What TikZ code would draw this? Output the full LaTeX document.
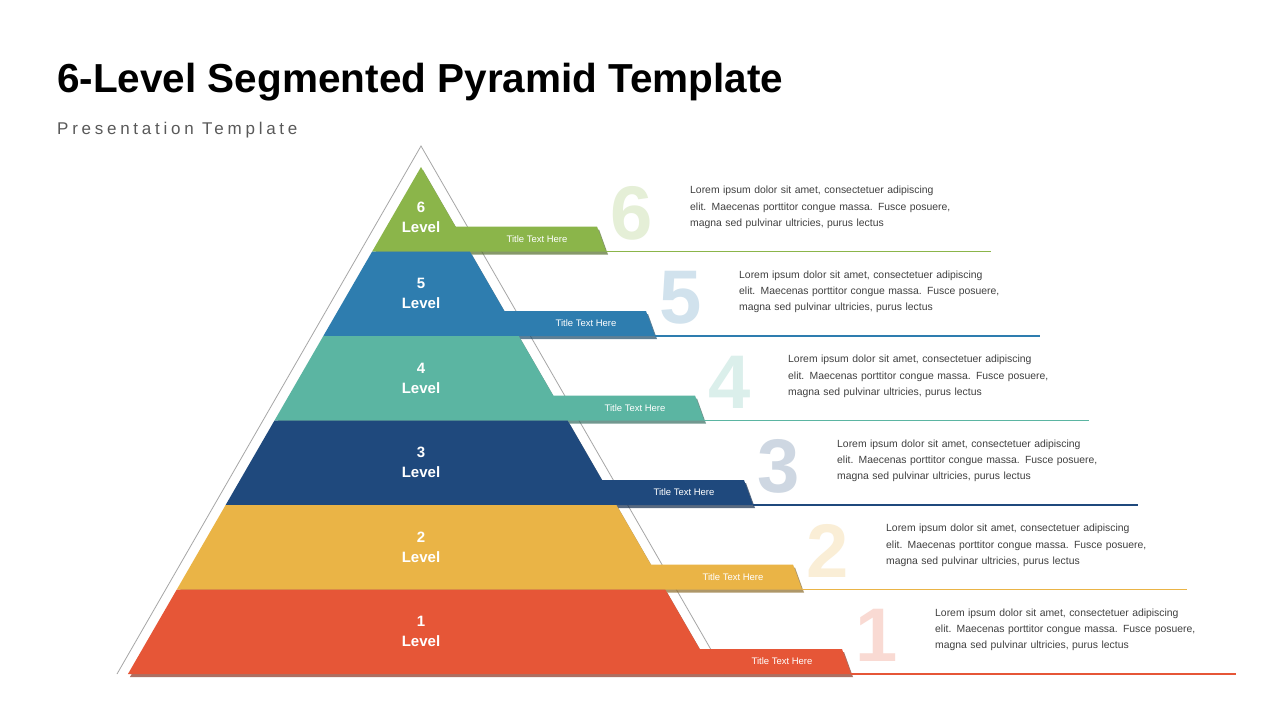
\documentclass[tikz,border=0pt]{standalone}
\usepackage{fontspec}
\setmainfont{Liberation Sans}
\usetikzlibrary{calc}
\definecolor{c1}{HTML}{E65637}
\definecolor{c2}{HTML}{EAB446}
\definecolor{c3}{HTML}{1F497D}
\definecolor{c4}{HTML}{5BB5A2}
\definecolor{c5}{HTML}{2E7DAF}
\definecolor{c6}{HTML}{8BB54A}
\tikzset{
 lvl/.style={text=white,font=\fontsize{15}{20}\selectfont\bfseries,align=center},
 ttl/.style={text=white,font=\fontsize{9.5}{11}\selectfont},
 bignum/.style={font=\fontsize{76}{76}\selectfont\bfseries},
 para/.style={anchor=north west,text width=340pt,text=black!75,font=\fontsize{10.4}{16.3}\selectfont,align=left,inner sep=0pt},
}
\begin{document}
\begin{tikzpicture}[x=1pt,y=-1pt]
\useasboundingbox (0,0) rectangle (1280,720);
\fill[white] (0,0) rectangle (1280,720);
\node[anchor=base west,inner sep=0pt,font=\fontsize{40.5}{42}\selectfont\bfseries] (title) at (57,92) {6-Level Segmented Pyramid Template};
\node[anchor=base west,inner sep=0pt,text=black!65,font=\fontsize{17}{18}\selectfont\addfontfeature{LetterSpace=22}] (sub) at (57,134) {Presentation Template};
\coordinate (apex) at (421,146);
\coordinate (bl) at (117,674);
\coordinate (br) at (725,674);
\draw[black!35,line width=0.8pt] (bl) -- (apex) -- (br);
\foreach \k/\n/\c in {0/6/c6,1/5/c5,2/4/c4,3/3/c3,4/2/c2,5/1/c1}{
  \pgfmathsetmacro{\T}{167+84.5*\k}
  \pgfmathsetmacro{\B}{\T+84.5}
  \pgfmathsetmacro{\ty}{\B-25}
  \pgfmathsetmacro{\xlT}{421-0.578*(\T-167)}
  \pgfmathsetmacro{\xrT}{421+0.578*(\T-167)}
  \pgfmathsetmacro{\xlB}{421-0.578*(\B-167)}
  \pgfmathsetmacro{\xrty}{421+0.578*(\ty-167)}
  \pgfmathsetmacro{\R}{606+49*\k}
  \pgfmathsetmacro{\ly}{\k==0 ? \T+50 : \T+42}
  \fill[\c!60!black,opacity=0.7] (\xlT+2,\T+3) -- (\xrT+2,\T+3) -- (\xrty+2,\ty+3) -- (\R-9+2,\ty+3) -- (\R+2,\B+3) -- (\xlB+2,\B+3) -- cycle;
  \fill[\c] (\xlT,\T) -- (\xrT,\T) -- (\xrty,\ty) -- (\R-9,\ty) -- (\R,\B) -- (\xlB,\B) -- cycle;
  \node[lvl] (lv\n) at (421,\ly) {\n\\Level};
  \node[ttl] (tt\n) at (\R-69,\B-12.5) {Title Text Here};
  \draw[\c,line width=1.1pt] (\R,\B) -- (\R+385,\B);
  \node[bignum,text=\c!22] (bn\n) at (632+49*\k,\T+46) {\n};
  \node[para] (p\n) at (690+49*\k,\T+19) {Lorem ipsum dolor sit amet, consectetuer adipiscing\\elit. Maecenas porttitor congue massa. Fusce posuere,\\magna sed pulvinar ultricies, purus lectus};
}
\end{tikzpicture}
\end{document}
